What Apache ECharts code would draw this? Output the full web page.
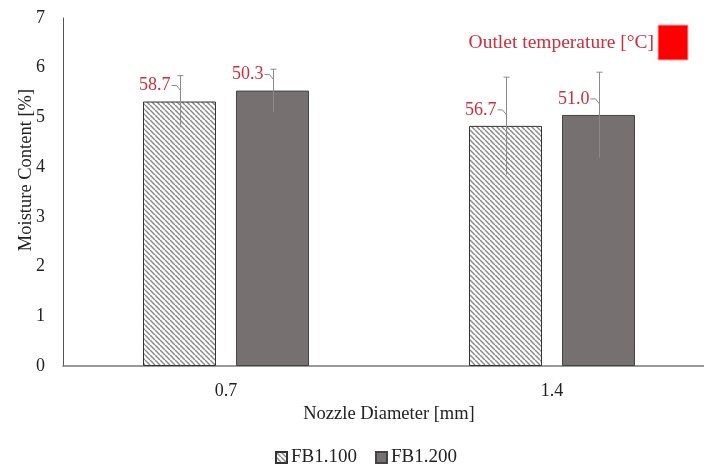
<!DOCTYPE html>
<html>
<head>
<meta charset="utf-8">
<script src="https://cdn.jsdelivr.net/npm/echarts@6/dist/echarts.min.js"></script>
<style>
  html, body { margin: 0; padding: 0; background: #fff; }
  #main { width: 704px; height: 465px; }
</style>
</head>
<body>
<div id="main"></div>
<script>
// chart data
var categories = ['0.7', '1.4'];
var fb100 = [5.32, 4.83];
var fb200 = [5.54, 5.05];
var err100 = [0.52, 0.98];
var err200 = [0.43, 0.86];
var temp100 = ['58.7', '56.7'];
var temp200 = ['50.3', '51.0'];
var yTicks = [0, 1, 2, 3, 4, 5, 6, 7];

var FONT = 'Liberation Serif';
var RED = '#cc2e3c';

// diagonal hatch for FB1.100
function hatch() {
  var c = document.createElement('canvas');
  c.width = 5; c.height = 5;
  var g = c.getContext('2d');
  g.fillStyle = '#fff';
  g.fillRect(0, 0, 5, 5);
  g.strokeStyle = '#8a8a8a';
  g.lineWidth = 1.5;
  for (var k = -5; k <= 5; k += 5) {
    g.beginPath();
    g.moveTo(k, 0);
    g.lineTo(k + 5, 5);
    g.stroke();
  }
  return c;
}

// error bar + temperature label, shifted to the bar's slot
function errSeries(vals, errs, temps, offset) {
  return {
    type: 'custom',
    silent: true,
    z: 5,
    data: vals.map(function (v, i) { return [i, v, errs[i]]; }),
    renderItem: function (params, api) {
      var i = api.value(0), v = api.value(1), e = api.value(2);
      var p = api.coord([i, v]);
      var x = Math.round(p[0] + offset) + 0.5;
      var top = api.coord([i, v + e])[1];
      var bot = api.coord([i, v - e])[1];
      var ly = p[1] - 16;
      var lineStyle = { stroke: '#8a8a8a', lineWidth: 1 };
      return {
        type: 'group',
        children: [
          { type: 'line', shape: { x1: x, y1: top, x2: x, y2: bot }, style: lineStyle },
          { type: 'line', shape: { x1: x - 3, y1: top, x2: x + 3, y2: top }, style: lineStyle },
          { type: 'polyline', shape: { points: [[x - 9, ly], [x - 4, ly], [x, ly + 5]] },
            style: { stroke: '#8a8a8a', lineWidth: 1, fill: null } },
          { type: 'text', x: x - 10, y: ly,
            style: { text: temps[params.dataIndex], fill: RED, font: '18px "' + FONT + '"',
                     align: 'right', verticalAlign: 'middle' } }
        ]
      };
    }
  };
}

var myChart = echarts.init(document.getElementById('main'), null, { renderer: 'canvas' });

myChart.setOption({
  animation: false,
  textStyle: { fontFamily: FONT },
  grid: { left: 63, top: 18, width: 652, bottom: 99, outerBoundsMode: 'none', containLabel: false },
  legend: {
    data: ['FB1.100', 'FB1.200'],
    left: 270,
    top: 443,
    icon: 'rect',
    itemWidth: 11,
    itemHeight: 11,
    itemGap: 18,
    textStyle: { fontFamily: FONT, fontSize: 19, color: '#222', padding: [0, 0, 0, -1] }
  },
  xAxis: {
    type: 'category',
    data: categories,
    name: 'Nozzle Diameter [mm]',
    nameLocation: 'middle',
    nameGap: 36,
    nameTextStyle: { fontFamily: FONT, fontSize: 18.5, color: '#222' },
    axisLine: { lineStyle: { color: '#7a7a7a', width: 1.5 } },
    axisTick: { show: false },
    axisLabel: { fontFamily: FONT, fontSize: 18, color: '#222', margin: 16 }
  },
  yAxis: {
    type: 'value',
    min: yTicks[0],
    max: yTicks[yTicks.length - 1],
    interval: 1,
    name: 'Moisture Content [%]',
    nameLocation: 'middle',
    nameGap: 27,
    nameMoveOverlap: false,
    nameTextStyle: { fontFamily: FONT, fontSize: 18.5, color: '#222', padding: [0, 0, 0, 44] },
    axisLine: { show: true, lineStyle: { color: '#555', width: 1 } },
    axisTick: { show: false },
    splitLine: { show: false },
    axisLabel: { fontFamily: FONT, fontSize: 18, color: '#222', margin: 18 }
  },
  graphic: [
    { type: 'text', right: 50, top: 33,
      style: { text: 'Outlet temperature [°C]', fill: RED, font: '19.5px "' + FONT + '"' } },
    { type: 'rect', shape: { x: 658, y: 25, width: 30, height: 35 },
      style: { fill: '#ff0000', stroke: '#ffaaaa', lineWidth: 1 } }
  ],
  series: [
    {
      name: 'FB1.100',
      type: 'bar',
      data: fb100,
      barWidth: 73,
      barGap: '27.4%',
      itemStyle: { color: { image: hatch(), repeat: 'repeat' }, borderColor: '#333', borderWidth: 1 }
    },
    {
      name: 'FB1.200',
      type: 'bar',
      data: fb200,
      barWidth: 73,
      itemStyle: { color: '#767070', borderColor: '#444', borderWidth: 1 }
    },
    errSeries(fb100, err100, temp100, -46.5),
    errSeries(fb200, err200, temp200, 46.5)
  ]
});
</script>
</body>
</html>
